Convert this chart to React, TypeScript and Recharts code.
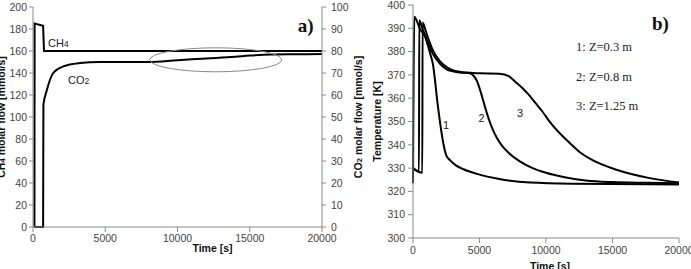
import { LineChart, Line, XAxis, YAxis, ReferenceDot } from 'recharts';

// shared axis ticks
const timeTicks = [0, 5000, 10000, 15000, 20000];
const flowTicks = [0, 20, 40, 60, 80, 100, 120, 140, 160, 180, 200];
const co2Ticks = [0, 10, 20, 30, 40, 50, 60, 70, 80, 90, 100];
const tempTicks = [300, 310, 320, 330, 340, 350, 360, 370, 380, 390, 400];

// a) molar flows
const ch4Time = [100, 110, 700, 760, 20000];
const ch4Flow = [0, 185, 183, 160, 160];
const co2Time = [100, 700, 720, 950, 1400, 2100, 3250, 4600, 8000, 10000, 12000, 14000, 15000, 16500, 18000, 20000];
const co2Flow = [0, 0, 55.5, 62, 70, 73, 74.5, 75, 75, 75.8, 76.6, 77.4, 77.9, 78.4, 78.5, 78.6];

// b) temperatures at three heights
const t1Time = [0, 100, 300, 500, 900, 1280, 1500, 1650, 1800, 2000, 2150, 2300, 2500, 2800, 3200, 3800, 5000, 6300, 8800, 12000, 20000];
const t1Temp = [323.5, 395, 393, 390, 386.5, 379.3, 374.5, 368, 360, 351, 345, 340, 335.5, 333.3, 331.3, 329.5, 327.2, 325.5, 323.8, 323.3, 323];
const t2Time = [0, 450, 470, 700, 1000, 1500, 2000, 2500, 3000, 3500, 4200, 4500, 4800, 5100, 5400, 5700, 6000, 6300, 6700, 7200, 8000, 9000, 10000, 11500, 13000, 15000, 17500, 20000];
const t2Temp = [330, 328.5, 393.5, 390, 385.5, 379, 375, 372.5, 371.5, 371, 370.8, 370, 367.5, 362.5, 356.5, 351, 346.5, 343, 339.5, 336.5, 333, 330, 328, 326, 324.7, 324, 323.7, 323.5];
const t3Time = [0, 700, 720, 1000, 1500, 2000, 2500, 3000, 4000, 5000, 6500, 7200, 7700, 8200, 8700, 9200, 9700, 10200, 10700, 11200, 11800, 12500, 13500, 15300, 17800, 20000];
const t3Temp = [330, 328, 392.5, 388, 380.5, 376, 373.5, 372, 371, 370.7, 370.5, 369.5, 367, 364.5, 361.5, 358, 354.5, 350.5, 347, 344, 340.7, 337, 333.4, 329.3, 325.7, 323.8];

const legendLines = ['1: Z=0.3 m', '2: Z=0.8 m', '3: Z=1.25 m'];

const zip = (t: number[], v: number[]) => t.map((x, i) => ({ t: x, v: v[i] }));

const axisColor = '#8a8a8a';
const tickStyle = { fill: '#444', fontSize: 10.5, fontFamily: 'Liberation Sans, Arial, sans-serif' };
const sans = 'Liberation Sans, Arial, sans-serif';
const serif = 'Liberation Serif, Times New Roman, serif';

function VTitle(cx: number, cy: number, main: string, sub?: string, rest?: string) {
  return (
    <text x={cx} y={cy} transform={`rotate(-90, ${cx}, ${cy})`} textAnchor="middle" dominantBaseline="central"
      fontFamily={sans} fontWeight="bold" fontSize={10.5} fill="#111">
      {main}
      {sub && <tspan fontSize={8} dy={1}>{sub}</tspan>}
      {rest && <tspan dy={sub ? -1 : 0}>{rest}</tspan>}
    </text>
  );
}

const textDot = (content: (cx: number, cy: number) => any) => (p: any) => content(p.cx, p.cy);

function FlowChart() {
  return (
    <LineChart width={370} height={269} margin={{ top: 7, right: 0, left: 0, bottom: 0 }}>
      <XAxis type="number" dataKey="t" domain={[0, 20000]} ticks={timeTicks} interval={0} height={42}
        tickSize={5} tickMargin={3} stroke={axisColor} tick={tickStyle}
        label={(p: any) => (
          <text x={p.viewBox.x + p.viewBox.width / 2 + 35} y={p.viewBox.y + 25} textAnchor="middle"
            fontFamily={sans} fontWeight="bold" fontSize={10.5} fill="#111">Time [s]</text>
        )} />
      <XAxis xAxisId="top" orientation="top" type="number" domain={[0, 20000]} height={0} tick={false} tickLine={false} stroke="#b0b0b0" />
      <YAxis yAxisId="left" domain={[0, 200]} ticks={flowTicks} interval={0} width={33} tickSize={4} tickMargin={2}
        stroke={axisColor} tick={tickStyle}
        label={(p: any) => VTitle(p.viewBox.x + 1, p.viewBox.y + p.viewBox.height / 2, 'CH', '4', ' molar flow [mmol/s]')} />
      <YAxis yAxisId="right" orientation="right" domain={[0, 100]} ticks={co2Ticks} interval={0} width={48} tickSize={4} tickMargin={5}
        stroke={axisColor} tick={tickStyle}
        label={(p: any) => VTitle(p.viewBox.x + 36, p.viewBox.y + p.viewBox.height / 2, 'CO', '2', ' molar flow [mmol/s]')} />
      <Line yAxisId="left" data={zip(ch4Time, ch4Flow)} dataKey="v" type="linear" stroke="#000" strokeWidth={2} dot={false} isAnimationActive={false} />
      <Line yAxisId="right" data={zip(co2Time, co2Flow)} dataKey="v" type="monotone" stroke="#000" strokeWidth={2} dot={false} isAnimationActive={false} />
      <ReferenceDot yAxisId="left" x={12650} y={152} shape={textDot((cx, cy) => (
        <ellipse cx={cx} cy={cy} rx={66} ry={12} fill="none" stroke="#8a8a8a" strokeWidth={1} />
      ))} />
      <ReferenceDot yAxisId="left" x={1040} y={163.5} shape={textDot((cx, cy) => (
        <text x={cx} y={cy} fontFamily={sans} fontSize={11} fill="#222">CH<tspan fontSize={8.5}>4</tspan></text>
      ))} />
      <ReferenceDot yAxisId="left" x={2420} y={130} shape={textDot((cx, cy) => (
        <text x={cx} y={cy} fontFamily={sans} fontSize={11} fill="#222">CO<tspan fontSize={8.5}>2</tspan></text>
      ))} />
      <ReferenceDot yAxisId="left" x={18330} y={177} shape={textDot((cx, cy) => (
        <text x={cx} y={cy} fontFamily={serif} fontWeight="bold" fontSize={19} fill="#111">a)</text>
      ))} />
    </LineChart>
  );
}

function TempChart() {
  return (
    <LineChart width={331} height={269} margin={{ top: 5, right: 12, left: 0, bottom: 0 }}>
      <XAxis type="number" dataKey="t" domain={[0, 20000]} ticks={timeTicks} interval={0} height={31}
        tickSize={5} tickMargin={4} stroke={axisColor} tick={tickStyle}
        label={(p: any) => (
          <text x={p.viewBox.x + p.viewBox.width / 2 + 4} y={p.viewBox.y + 32} textAnchor="middle"
            fontFamily={sans} fontWeight="bold" fontSize={10.5} fill="#111">Time [s]</text>
        )} />
      <XAxis xAxisId="top" orientation="top" type="number" domain={[0, 20000]} height={0} tick={false} tickLine={false} stroke="#b0b0b0" />
      <YAxis domain={[300, 400]} ticks={tempTicks} interval={0} width={53} tickSize={5} tickMargin={3}
        stroke={axisColor} tick={tickStyle}
        label={(p: any) => VTitle(p.viewBox.x + 17, p.viewBox.y + p.viewBox.height / 2, 'Temperature [K]')} />
      <YAxis yAxisId="border" orientation="right" domain={[300, 400]} width={0} tick={false} tickLine={false} stroke="#b0b0b0" />
      <Line data={zip(t1Time, t1Temp)} dataKey="v" type="monotone" stroke="#000" strokeWidth={2} dot={false} isAnimationActive={false} />
      <Line data={zip(t2Time, t2Temp)} dataKey="v" type="monotone" stroke="#000" strokeWidth={2} dot={false} isAnimationActive={false} />
      <Line data={zip(t3Time, t3Temp)} dataKey="v" type="monotone" stroke="#000" strokeWidth={2} dot={false} isAnimationActive={false} />
      {[[2480, 348.6, '1'], [5150, 351.4, '2'], [8050, 353.6, '3']].map(([x, y, s]) => (
        <ReferenceDot key={s as string} x={x as number} y={y as number} shape={textDot((cx, cy) => (
          <text x={cx} y={cy} textAnchor="middle" dominantBaseline="central" fontFamily={sans} fontSize={11} fill="#222">{s}</text>
        ))} />
      ))}
      {legendLines.map((s, i) => (
        <ReferenceDot key={s} x={12260} y={380.1 - i * 12.6} shape={textDot((cx, cy) => (
          <text x={cx} y={cy} fontFamily={serif} fontSize={12.5} fill="#222">{s}</text>
        ))} />
      ))}
      <ReferenceDot x={17970} y={389.3} shape={textDot((cx, cy) => (
        <text x={cx} y={cy} fontFamily={serif} fontWeight="bold" fontSize={19} fill="#111">b)</text>
      ))} />
    </LineChart>
  );
}

export default function App() {
  return (
    <div style={{ position: 'absolute', left: 0, top: 0, width: 691, height: 269, background: '#fff', overflow: 'hidden' }}>
      <div style={{ position: 'absolute', left: 0, top: 0 }}>
        <FlowChart />
      </div>
      <div style={{ position: 'absolute', left: 360, top: 0 }}>
        <TempChart />
      </div>
    </div>
  );
}
